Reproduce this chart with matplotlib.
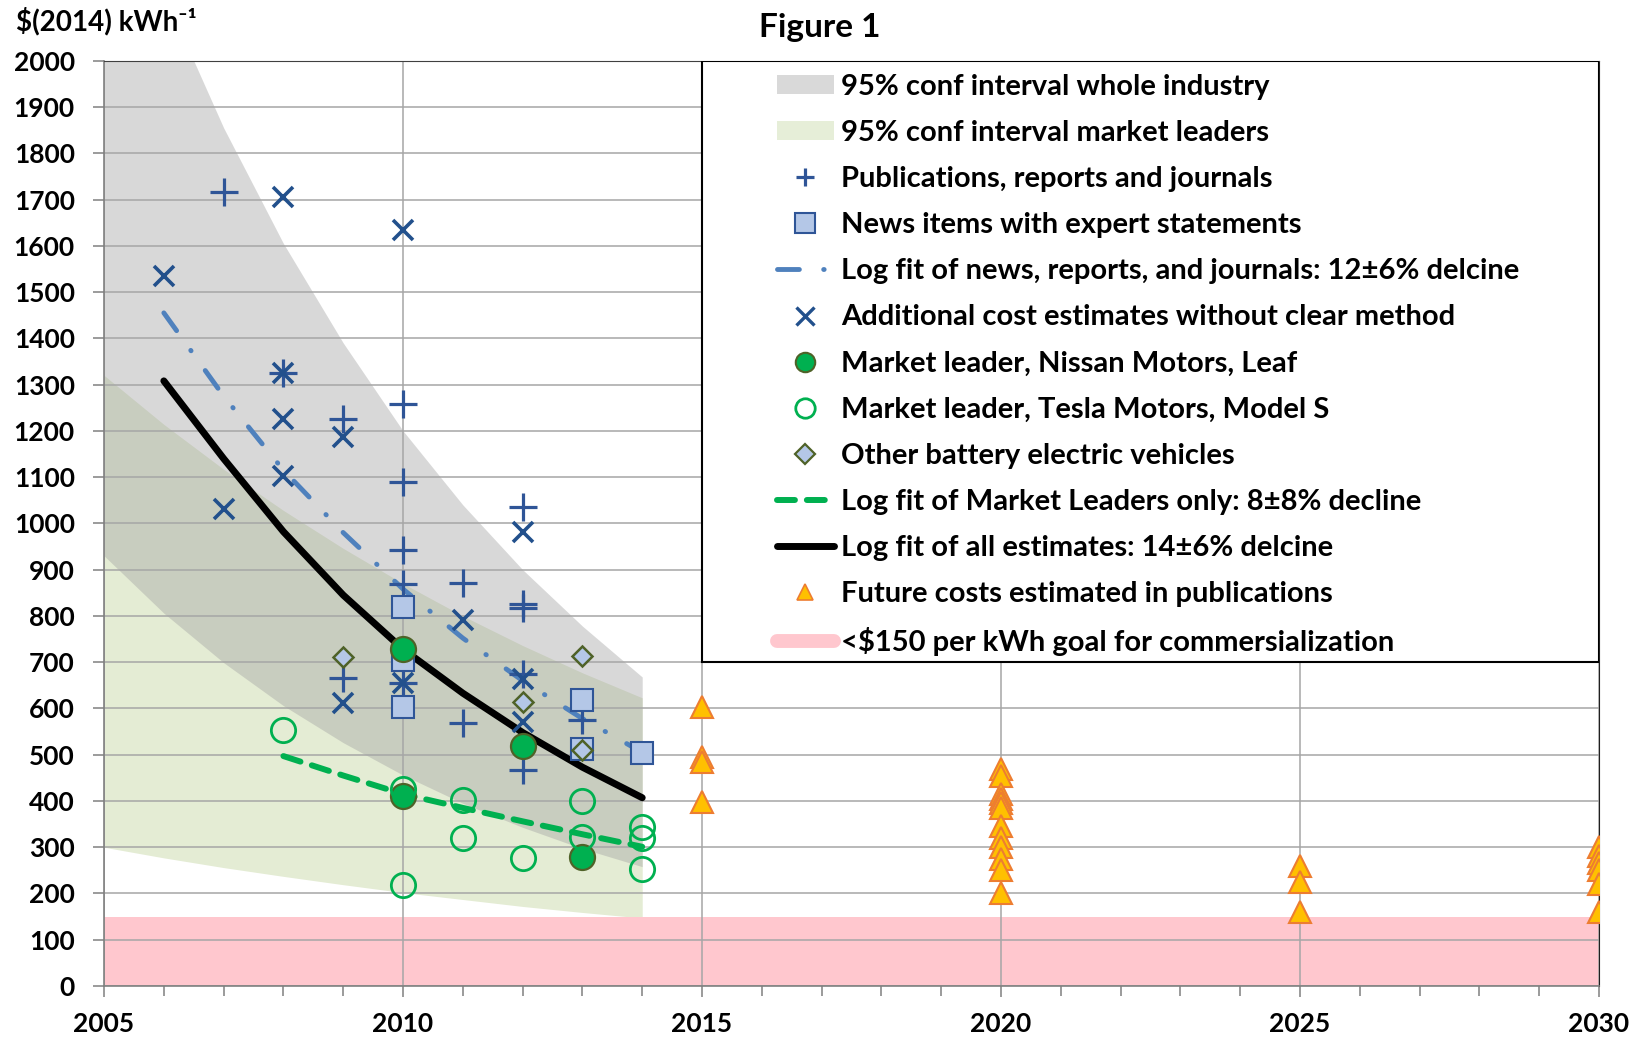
import matplotlib
matplotlib.use('Agg')
import matplotlib.pyplot as plt
from matplotlib.lines import Line2D
from matplotlib.patches import Patch, Rectangle

plt.rcParams['font.family'] = ['Lato', 'DejaVu Sans']
plt.rcParams['font.weight'] = 'bold'

# confidence bands, read at each year
band_years = [2005, 2006, 2007, 2008, 2009, 2010, 2011, 2012, 2013, 2014]
industry_hi = [2480, 2145, 1855, 1605, 1390, 1200, 1040, 900, 778, 668]
industry_lo = [930, 806, 699, 606, 526, 456, 395, 343, 297, 258]
leaders_hi = [1320, 1214, 1117, 1028, 946, 870, 800, 736, 677, 623]
leaders_lo = [300, 277, 256, 237, 219, 202, 187, 172, 159, 147]

# fitted curves
fit_years = [2006, 2007, 2008, 2009, 2010, 2011, 2012, 2013, 2014]
fit_all = [1308, 1140, 982, 845, 728, 633, 548, 473, 407]
fit_news = [1455, 1275, 1115, 980, 858, 752, 660, 578, 505]
fit_lead_years = [2008, 2009, 2010, 2011, 2012, 2013, 2014]
fit_lead = [497, 455, 415, 385, 356, 328, 301]

# point estimates
pub_x = [2007, 2008, 2009, 2009, 2010, 2010, 2010, 2010, 2010, 2011, 2011, 2012, 2012, 2012, 2012, 2012, 2013]
pub_y = [1717, 1325, 1225, 665, 1258, 1090, 942, 869, 654, 872, 569, 1035, 825, 818, 675, 467, 575]
add_x = [2006, 2007, 2008, 2008, 2008, 2008, 2009, 2009, 2010, 2010, 2011, 2012, 2012, 2012]
add_y = [1534, 1032, 1705, 1325, 1225, 1102, 1187, 611, 1634, 654, 791, 982, 663, 571]
news_x = [2010, 2010, 2010, 2013, 2013, 2014]
news_y = [820, 705, 604, 618, 512, 503]
nissan_x = [2010, 2010, 2012, 2013]
nissan_y = [728, 410, 519, 278]
tesla_x = [2008, 2010, 2010, 2011, 2011, 2012, 2013, 2013, 2014, 2014, 2014]
tesla_y = [553, 425, 218, 402, 319, 276, 400, 323, 344, 319, 252]
other_x = [2009, 2012, 2013, 2013]
other_y = [712, 613, 713, 510]
future_x = [2015] * 4 + [2020] * 12 + [2025] * 3 + [2030] * 6
future_y = [604, 496, 485, 398,
            470, 455, 415, 405, 395, 385, 345, 320, 300, 275, 250, 200,
            260, 225, 160,
            300, 280, 265, 250, 220, 160]
goal = 150

labels = ['95% conf interval whole industry',
          '95% conf interval market leaders',
          'Publications, reports and journals',
          'News items with expert statements',
          'Log fit of news, reports, and journals: 12±6% delcine',
          'Additional cost estimates without clear method',
          'Market leader, Nissan Motors, Leaf',
          'Market leader, Tesla Motors, Model S',
          'Other battery electric vehicles',
          'Log fit of Market Leaders only: 8±8% decline',
          'Log fit of all estimates: 14±6% delcine',
          'Future costs estimated in publications',
          '<$150 per kWh goal for commersialization']

BLUE = '#2F5597'
DKBLUE = '#22508C'
LBLUE = '#B4C7E7'
GREEN = '#00B050'
OLIVE = '#4F6228'
NEWS_LS = (0, (4.5, 5.0, 0.1, 5.0))
LEAD_LS = (0, (3.0, 2.0))

fig = plt.figure(figsize=(16.41, 10.40), dpi=100)
ax = fig.add_axes([0.0634, 0.0519, 0.9110, 0.8897])

# bands and goal area
ax.fill_between(band_years, leaders_lo, leaders_hi, color='#E4ECD4', lw=0, zorder=0.2)
ax.fill_between(band_years, industry_lo, industry_hi, color='#A2A2A2', alpha=0.41, lw=0, zorder=0.3)
ax.fill_between([2005, 2030], 0, goal, color='#FFC7CE', lw=0, zorder=0.3)

# fits
ax.plot(fit_years, fit_all, color='black', lw=5, zorder=3, solid_capstyle='round')
ax.plot(fit_years, fit_news, color='#4F81BD', lw=3.5, ls=NEWS_LS, dash_capstyle='round', zorder=3)
ax.plot(fit_lead_years, fit_lead, color=GREEN, lw=4.3, ls=LEAD_LS, dash_capstyle='round', zorder=3)

# points
ax.plot(pub_x, pub_y, ls='none', marker='+', ms=20, mew=2.3, color=BLUE, zorder=4)
ax.plot(add_x, add_y, ls='none', marker='x', ms=14.5, mew=2.6, color=DKBLUE, zorder=4)
ax.plot(news_x, news_y, ls='none', marker='s', ms=16, mew=1.5, mfc=LBLUE, mec=BLUE, zorder=4)
ax.plot(nissan_x, nissan_y, ls='none', marker='o', ms=18, mew=1.6, mfc=GREEN, mec=OLIVE, zorder=4)
ax.plot(tesla_x, tesla_y, ls='none', marker='o', ms=17.5, mew=2, mfc='none', mec=GREEN, zorder=4)
ax.plot(other_x, other_y, ls='none', marker='D', ms=10.5, mew=1.8, mfc=LBLUE, mec=OLIVE, zorder=4)
ax.plot(future_x, future_y, ls='none', marker='^', ms=16.5, mew=1.5, mfc='#FFC000', mec='#ED7D31', zorder=4)

ax.set_xlim(2005, 2030)
ax.set_ylim(0, 2000)
ax.set_xticks(range(2005, 2031, 5))
ax.set_xticks(range(2005, 2031), minor=True)
ax.set_yticks(range(0, 2001, 100))
ax.set_axisbelow(True)
ax.grid(which='major', color='#A6A6A6', lw=1.1)
ax.tick_params(axis='both', which='major', direction='out', length=8, width=1.1,
               color='#808080', labelsize=19)
ax.tick_params(axis='x', which='major', pad=11)
ax.tick_params(axis='y', which='major', pad=13)
ax.tick_params(axis='x', which='minor', direction='out', length=7, width=1.1, color='#808080')
for side in ['left', 'bottom']:
    ax.spines[side].set_color('#808080')
    ax.spines[side].set_linewidth(1.2)
ax.spines['top'].set_color('#404040')
ax.spines['right'].set_color('#202020')

# legend box sits in the upper right of the plot area
ax.add_patch(Rectangle((2015, 700), 15, 1300, facecolor='white', edgecolor='black', lw=1.5, zorder=5))
handles = [
    Patch(facecolor='#D9D9D9', edgecolor='none'),
    Patch(facecolor='#E6EED8', edgecolor='none'),
    Line2D([], [], ls='none', marker='+', ms=13, mew=2.3, color=BLUE),
    Line2D([], [], ls='none', marker='s', ms=14, mew=1.5, mfc=LBLUE, mec=BLUE),
    Line2D([], [], color='#4F81BD', lw=3.5, ls=NEWS_LS, dash_capstyle='round'),
    Line2D([], [], ls='none', marker='x', ms=13, mew=2.4, color=DKBLUE),
    Line2D([], [], ls='none', marker='o', ms=14, mew=1.5, mfc=GREEN, mec=OLIVE),
    Line2D([], [], ls='none', marker='o', ms=14, mew=2, mfc='none', mec=GREEN),
    Line2D([], [], ls='none', marker='D', ms=10, mew=1.6, mfc=LBLUE, mec=OLIVE),
    Line2D([], [], color=GREEN, lw=4.3, ls=LEAD_LS, dash_capstyle='round'),
    Line2D([], [], color='black', lw=5, solid_capstyle='round'),
    Line2D([], [], ls='none', marker='^', ms=11, mew=1.2, mfc='#FFC000', mec='#ED7D31'),
    Line2D([], [], color='#FFC7CE', lw=10, solid_capstyle='round'),
]
leg = ax.legend(handles, labels, loc='upper left', bbox_to_anchor=(2016.25, 1972),
                bbox_transform=ax.transData, frameon=False, borderpad=0, borderaxespad=0,
                handlelength=1.95, handleheight=0.6, handletextpad=0.25, labelspacing=0.69,
                prop={'size': 21, 'weight': 'bold'})
leg.set_zorder(6)

fig.text(820 / 1641, 1 - 28 / 1040, 'Figure 1', ha='center', va='center', fontsize=24, fontweight='bold')
fig.text(16 / 1641, 1 - 21 / 1040, '$(2014) kWh⁻¹', ha='left', va='center', fontsize=20, fontweight='bold')

fig.savefig('out.png', dpi=100)
